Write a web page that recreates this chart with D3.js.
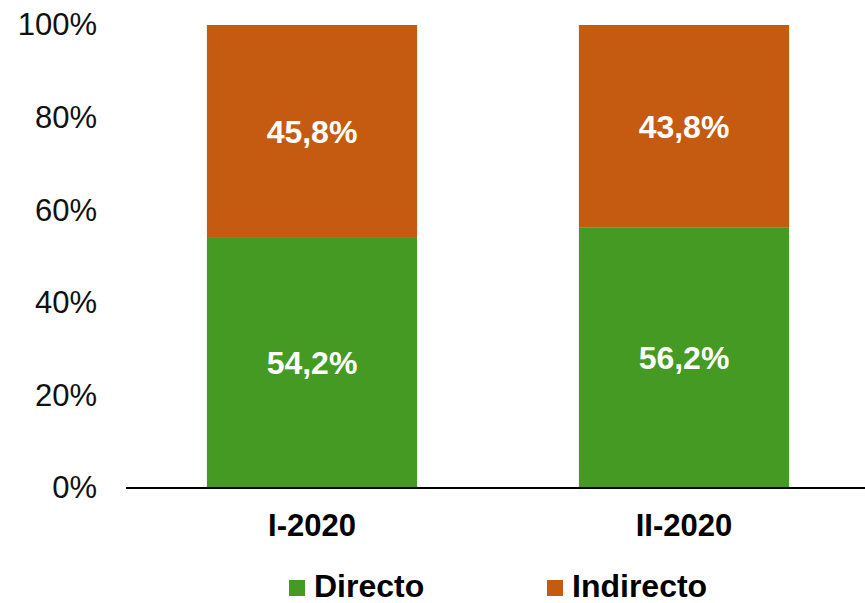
<!DOCTYPE html>
<html>
<head>
<meta charset="utf-8">
<script src="https://cdn.jsdelivr.net/npm/d3@7"></script>
<style>
  body { margin: 0; background: #fff; }
  svg text { font-family: Arial, "Liberation Sans", sans-serif; }
</style>
</head>
<body>
<svg id="chart" width="865" height="603"></svg>
<script>
// periods on the x axis
const periods = ["I-2020", "II-2020"];
// share of each type, in percent
const directo = [54.2, 56.2];
const indirecto = [45.8, 43.8];
// series names and colours
const seriesNames = ["Directo", "Indirecto"];
const seriesColors = ["#449a22", "#c55a11"];
// y tick values
const yTicks = [0, 20, 40, 60, 80, 100];

const svg = d3.select("#chart");

const rows = periods.map((p, i) => ({ period: p, Directo: directo[i], Indirecto: indirecto[i] }));
const stacked = d3.stack().keys(seriesNames)(rows);

const x = d3.scaleBand()
  .domain(periods)
  .range([126, 870])
  .paddingInner(0.435)
  .paddingOuter(0.2175);

const y = d3.scaleLinear()
  .domain([0, 100])
  .range([488, 25]);

const color = d3.scaleOrdinal().domain(seriesNames).range(seriesColors);

// bars
const layers = svg.append("g")
  .selectAll("g")
  .data(stacked)
  .join("g")
  .attr("fill", d => color(d.key));

layers.selectAll("rect")
  .data(d => d)
  .join("rect")
  .attr("x", d => x(d.data.period))
  .attr("width", x.bandwidth())
  .attr("y", d => y(d[1]))
  .attr("height", d => y(d[0]) - y(d[1]));

// value labels inside the segments
layers.selectAll("text")
  .data(d => d)
  .join("text")
  .attr("x", d => x(d.data.period) + x.bandwidth() / 2)
  .attr("y", d => (y(d[0]) + y(d[1])) / 2)
  .attr("dy", "0.36em")
  .attr("text-anchor", "middle")
  .attr("fill", "#fff")
  .attr("font-size", 32)
  .attr("font-weight", "bold")
  .text(d => d3.format(".1f")(d[1] - d[0]).replace(".", ",") + "%");

// y axis labels (no line)
const yAxis = svg.append("g")
  .attr("transform", "translate(97,0)")
  .call(d3.axisLeft(y).tickValues(yTicks).tickSize(0).tickPadding(0).tickFormat(d => d + "%"));
yAxis.select(".domain").remove();
yAxis.selectAll("text")
  .attr("font-size", 31)
  .attr("font-family", "Arial, 'Liberation Sans', sans-serif")
  .attr("fill", "#111");

// x axis: baseline and category labels
const xAxis = svg.append("g")
  .attr("transform", `translate(0,${y(0)})`)
  .call(d3.axisBottom(x).tickSize(0).tickPadding(0));
xAxis.select(".domain")
  .attr("d", "M126,0H865")
  .attr("stroke", "#000")
  .attr("stroke-width", 2);
xAxis.selectAll("text")
  .attr("dy", "1.55em")
  .attr("font-size", 31)
  .attr("font-weight", "bold")
  .attr("font-family", "Arial, 'Liberation Sans', sans-serif")
  .attr("fill", "#000");

// legend
const legend = svg.append("g")
  .selectAll("g")
  .data(seriesNames)
  .join("g")
  .attr("transform", (d, i) => `translate(${289 + i * 258},580)`);

legend.append("rect")
  .attr("width", 16)
  .attr("height", 16)
  .attr("fill", d => color(d));

legend.append("text")
  .attr("x", 25)
  .attr("y", 17)
  .attr("font-size", 32)
  .attr("font-weight", "bold")
  .attr("fill", "#000")
  .text(d => d);
</script>
</body>
</html>
